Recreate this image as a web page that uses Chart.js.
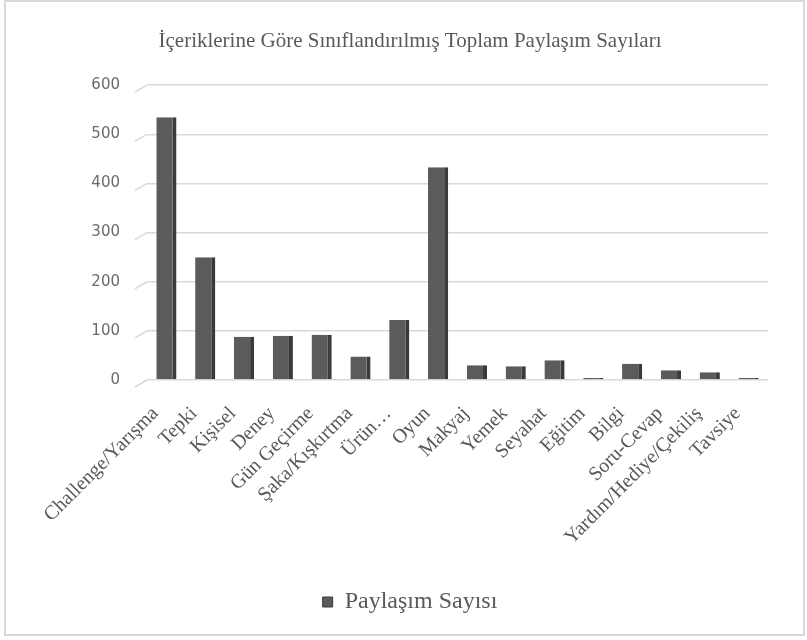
<!DOCTYPE html>
<html>
<head>
<meta charset="utf-8">
<script src="https://cdn.jsdelivr.net/npm/chart.js@4"></script>
<style>
  html, body { margin: 0; padding: 0; background: #fff; }
  #kutu { position: absolute; left: 4px; top: 0; width: 801px; height: 636px;
          border: 2px solid #d9d9d9; box-sizing: border-box; }
  #sarmal { position: absolute; left: 0; top: 0; width: 807px; height: 640px; }
</style>
</head>
<body>
<div id="kutu"></div>
<div id="sarmal"><canvas id="grafik"></canvas></div>
<script>
// Kategoriler ve degerler
const kategoriler = ['Challenge/Yarışma', 'Tepki', 'Kişisel', 'Deney', 'Gün Geçirme', 'Şaka/Kışkırtma',
  'Ürün…', 'Oyun', 'Makyaj', 'Yemek', 'Seyahat', 'Eğitim', 'Bilgi', 'Soru-Cevap',
  'Yardım/Hediye/Çekiliş', 'Tavsiye'];
const paylasimSayisi = [535, 250, 88, 90, 92, 48, 122, 433, 30, 28, 40, 4, 33, 20, 16, 4];
const yEksenEtiketleri = [0, 100, 200, 300, 400, 500, 600];

const baslik = 'İçeriklerine Göre Sınıflandırılmış Toplam Paylaşım Sayıları';
const seriAdi = 'Paylaşım Sayısı';

const gri = '#595959';
const serif = "'Liberation Serif', 'DejaVu Serif', serif";

// 3B zemin etkisi: her yatay cizginin solunda kucuk capraz cizgi
const zeminCizgileri = {
  id: 'zeminCizgileri',
  beforeDatasetsDraw(chart) {
    const { ctx, chartArea, scales: { y } } = chart;
    ctx.save();
    ctx.strokeStyle = '#d9d9d9';
    ctx.lineWidth = 1.5;
    y.ticks.forEach(t => {
      const py = y.getPixelForValue(t.value);
      ctx.beginPath();
      ctx.moveTo(chartArea.left - 12, py + 7);
      ctx.lineTo(chartArea.left, py);
      ctx.stroke();
    });
    ctx.restore();
  }
};

new Chart(document.getElementById('grafik'), {
  type: 'bar',
  data: {
    labels: kategoriler,
    datasets: [{
      label: seriAdi,
      data: paylasimSayisi,
      backgroundColor: '#5b5b5b',
      borderColor: '#3a3a3a',
      borderWidth: { top: 0, right: 4, bottom: 0, left: 0 },
      barPercentage: 0.52,
      categoryPercentage: 1
    }]
  },
  plugins: [zeminCizgileri],
  options: {
    responsive: true,
    maintainAspectRatio: false,
    animation: false,
    layout: { padding: { left: 52, right: 39, top: 0, bottom: 16 } },
    plugins: {
      title: {
        display: true, text: baslik, color: gri,
        font: { family: serif, size: 21, weight: 'normal' },
        padding: { top: 29, bottom: 31 }
      },
      legend: {
        display: true, position: 'bottom',
        labels: {
          color: gri, boxWidth: 10, boxHeight: 10,
          font: { family: serif, size: 24 }
        }
      },
      tooltip: { enabled: false }
    },
    scales: {
      x: {
        grid: { display: false },
        border: { display: false },
        afterFit: (ax) => { ax.height = 200; },
        ticks: {
          color: gri, maxRotation: 45, minRotation: 45, autoSkip: false,
          font: { family: serif, size: 20 }, padding: 14, labelOffset: -11
        }
      },
      y: {
        min: yEksenEtiketleri[0],
        max: yEksenEtiketleri[yEksenEtiketleri.length - 1],
        afterBuildTicks: (ax) => { ax.ticks = yEksenEtiketleri.map(v => ({ value: v })); },
        afterFit: (ax) => { ax.width = 95; },
        grid: { color: '#d9d9d9', lineWidth: 1.5, drawTicks: false },
        border: { display: false },
        ticks: {
          color: '#6a6a6a', padding: 27,
          font: { family: "'DejaVu Sans', sans-serif", size: 15 }
        }
      }
    }
  }
});
</script>
</body>
</html>
